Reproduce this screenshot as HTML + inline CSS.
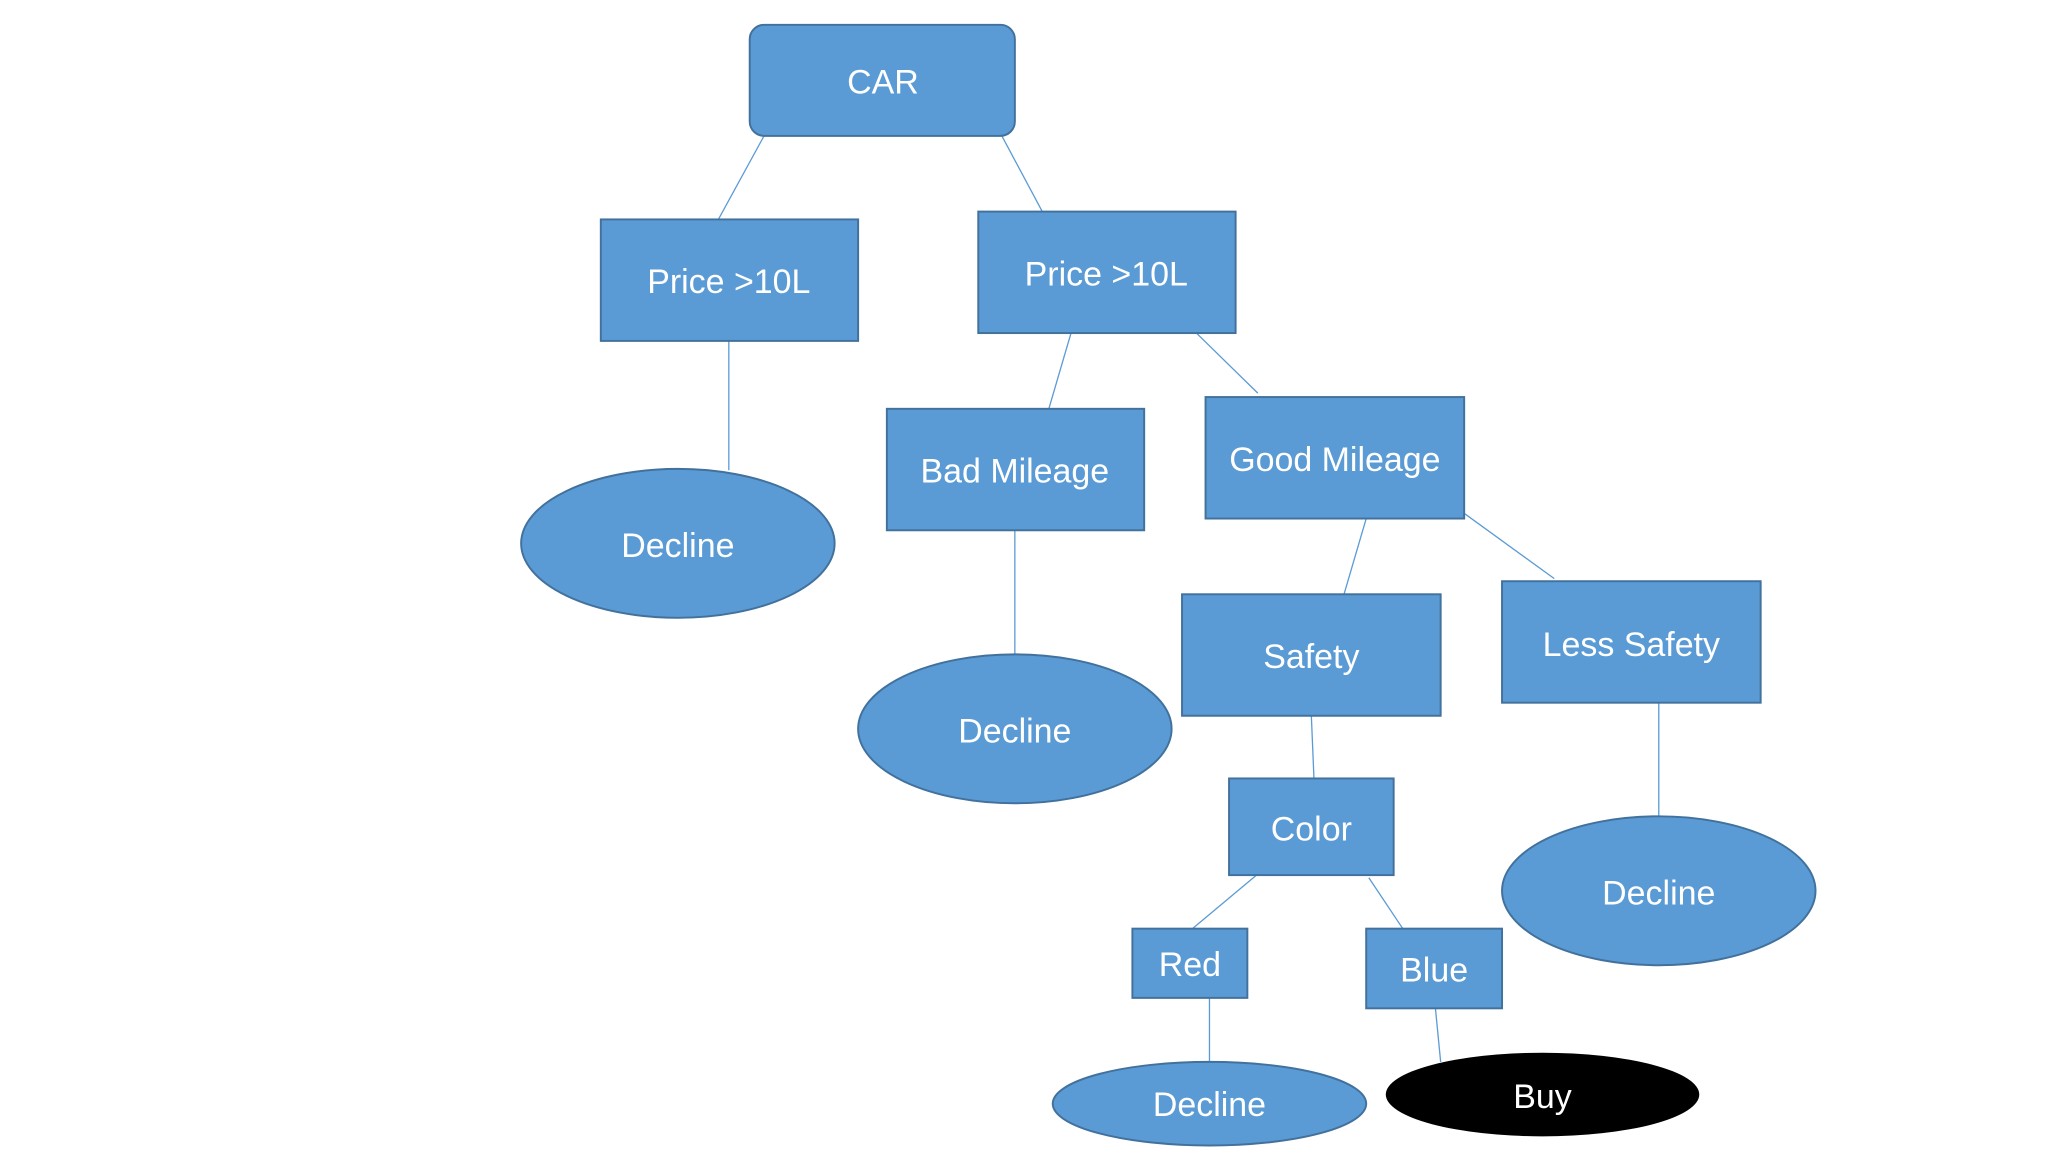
<!DOCTYPE html>
<html><head><meta charset="utf-8"><style>html,body{margin:0;padding:0;background:#fff;width:2048px;height:1152px;overflow:hidden}</style></head>
<body>
<svg width="2048" height="1152" viewBox="0 0 1568 882" xmlns="http://www.w3.org/2000/svg" font-family="Liberation Sans, sans-serif" font-size="26">
<g stroke="#5b9bd5" stroke-width="1">
<line x1="585" y1="104" x2="550" y2="168"/>
<line x1="767" y1="104" x2="798" y2="162"/>
<line x1="558" y1="261" x2="558" y2="360"/>
<line x1="820" y1="255" x2="803" y2="313"/>
<line x1="916" y1="255" x2="963" y2="301"/>
<line x1="777" y1="406" x2="777" y2="502"/>
<line x1="1046" y1="397" x2="1029" y2="455"/>
<line x1="1121" y1="393" x2="1190" y2="443"/>
<line x1="1004" y1="548" x2="1006" y2="596"/>
<line x1="1270" y1="538" x2="1270" y2="625"/>
<line x1="962" y1="670" x2="913" y2="711"/>
<line x1="1048" y1="672" x2="1074" y2="711"/>
<line x1="926" y1="764" x2="926" y2="813"/>
<line x1="1099" y1="772" x2="1103" y2="813"/>
</g>
<g fill="#5b9bd5" stroke="#41719c" stroke-width="1.5">
<rect x="574" y="19" width="203" height="85" rx="11"/>
<rect x="460" y="168" width="197" height="93"/>
<rect x="749" y="162" width="197" height="93"/>
<ellipse cx="519" cy="416" rx="120" ry="57"/>
<rect x="679" y="313" width="197" height="93"/>
<rect x="923" y="304" width="198" height="93"/>
<ellipse cx="777" cy="558" rx="120" ry="57"/>
<rect x="905" y="455" width="198" height="93"/>
<rect x="1150" y="445" width="198" height="93"/>
<rect x="941" y="596" width="126" height="74"/>
<ellipse cx="1270" cy="682" rx="120" ry="57"/>
<rect x="867" y="711" width="88" height="53"/>
<rect x="1046" y="711" width="104" height="61"/>
<ellipse cx="926" cy="845" rx="120" ry="32"/>
</g>
<ellipse cx="1181" cy="838" rx="120" ry="32" fill="#000"/>
<g fill="#fff" text-anchor="middle" dominant-baseline="central">
<text x="676" y="63">CAR</text>
<text x="558" y="216">Price &gt;10L</text>
<text x="847" y="210">Price &gt;10L</text>
<text x="519" y="418">Decline</text>
<text x="777" y="361">Bad Mileage</text>
<text x="1022" y="352">Good Mileage</text>
<text x="777" y="560">Decline</text>
<text x="1004" y="503">Safety</text>
<text x="1249" y="494">Less Safety</text>
<text x="1004" y="635">Color</text>
<text x="1270" y="684">Decline</text>
<text x="911" y="739">Red</text>
<text x="1098" y="743">Blue</text>
<text x="926" y="846">Decline</text>
<text x="1181" y="840">Buy</text>
</g>
</svg>
</body></html>
